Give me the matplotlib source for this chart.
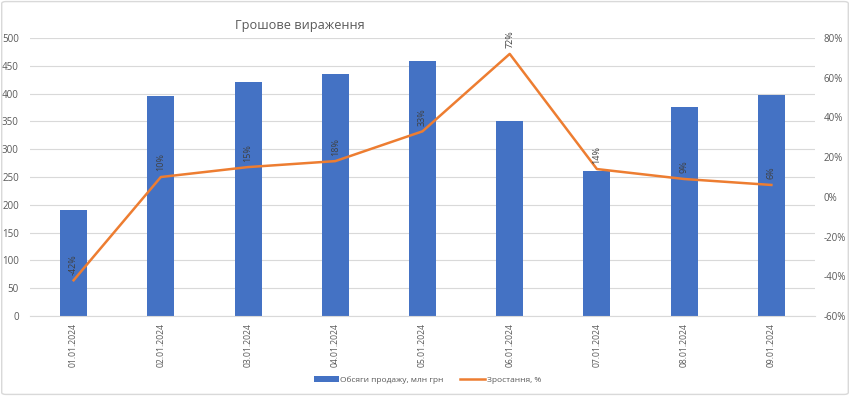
import matplotlib
matplotlib.use("Agg")
import matplotlib.pyplot as plt
from matplotlib.ticker import FuncFormatter
from matplotlib.patches import FancyBboxPatch

dates = ["01.01.2024", "02.01.2024", "03.01.2024", "04.01.2024", "05.01.2024",
         "06.01.2024", "07.01.2024", "08.01.2024", "09.01.2024"]
sales = [190, 395, 420, 435, 458, 350, 260, 376, 397]
growth = [-42, 10, 15, 18, 33, 72, 14, 9, 6]
growth_labels = ["-42%", "10%", "15%", "18%", "33%", "72%", "14%", "9%", "6%"]

plt.rcParams['font.family'] = ['Open Sans', 'DejaVu Sans']
txt = "#595959"

fig = plt.figure(figsize=(8.5, 3.96), dpi=100)
fig.patches.append(FancyBboxPatch((0.002, 0.004), 0.996, 0.992, boxstyle="round,pad=0,rounding_size=0.005",
                                  transform=fig.transFigure, fill=False, edgecolor="#D9D9D9", linewidth=1))
ax = fig.add_axes([0.0353, 0.202, 0.9235, 0.702])
x = list(range(len(dates)))
bars = ax.bar(x, sales, width=0.31, color="#4472C4", zorder=2, label="Обсяги продажу, млн грн")
ax.set_ylim(0, 500)
ax.set_yticks(range(0, 501, 50))
ax.set_xlim(-0.5, len(dates) - 0.5)
ax.set_xticks(x)
ax.set_xticklabels(dates, rotation=90, fontsize=6.2, color=txt)
ax.tick_params(axis='y', labelsize=7, colors=txt, length=0, pad=8)
ax.tick_params(axis='x', length=0, pad=5)
ax.grid(axis='y', color="#D9D9D9", linewidth=0.8, zorder=0)
for s in ax.spines.values():
    s.set_visible(False)
ax.spines['bottom'].set_visible(True)
ax.spines['bottom'].set_color("#D9D9D9")

ax2 = ax.twinx()
line, = ax2.plot(x, growth, color="#ED7D31", linewidth=1.8, zorder=3, label="Зростання, %")
ax2.set_ylim(-60, 80)
ax2.set_yticks(range(-60, 81, 20))
ax2.yaxis.set_major_formatter(FuncFormatter(lambda v, p: f"{int(v)}%"))
ax2.tick_params(axis='y', labelsize=7, colors=txt, length=0, pad=6)
for s in ax2.spines.values():
    s.set_visible(False)
for xi, g, lab in zip(x, growth, growth_labels):
    ax2.annotate(lab, (xi, g), xytext=(0, 4), textcoords="offset points", rotation=90,
                 ha="center", va="bottom", fontsize=6.5, color="#404040")

fig.text(0.353, 0.935, "Грошове вираження", ha="center", va="center", fontsize=9.2, color=txt)
fig.legend(handles=[bars, line], loc="center", bbox_to_anchor=(0.503, 0.04), ncol=2, frameon=False,
           fontsize=6, labelcolor=txt, handlelength=3, handleheight=0.6, columnspacing=2, handletextpad=0.2)
fig.savefig("out.png", dpi=100, facecolor="white")
